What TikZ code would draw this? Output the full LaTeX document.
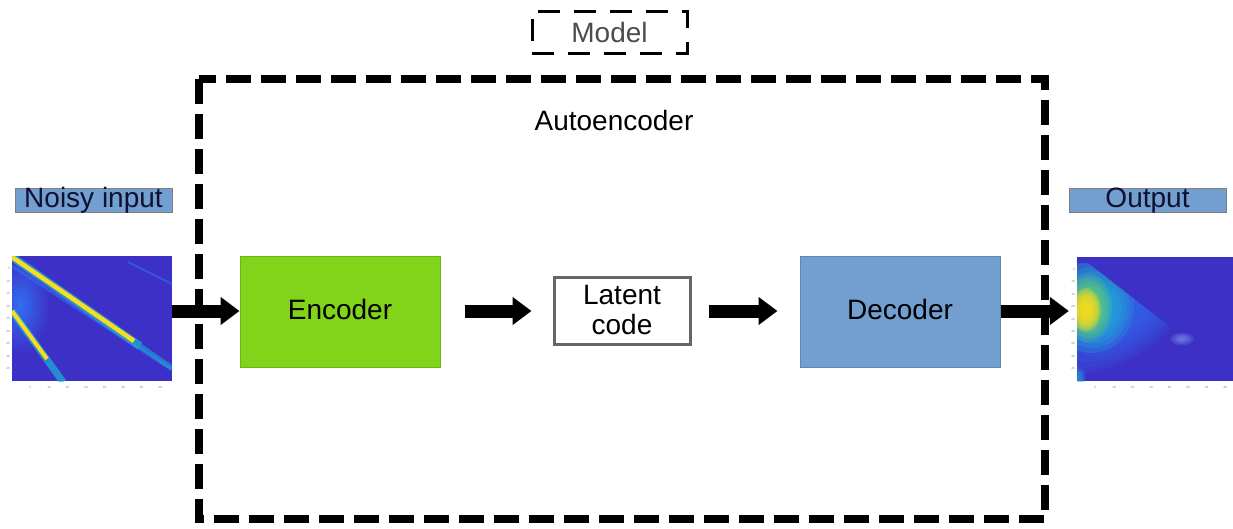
\documentclass[tikz,border=0pt]{standalone}
\usepackage{fontspec}
\setmainfont{Liberation Sans}
\usetikzlibrary{arrows.meta}
\definecolor{encgreen}{RGB}{129,212,26}
\definecolor{decblue}{RGB}{114,159,207}
\definecolor{labelblue}{RGB}{114,159,207}
\definecolor{navy}{RGB}{16,16,48}
\definecolor{hmbg}{RGB}{60,48,198}
\definecolor{hmyellow}{RGB}{250,220,30}
\definecolor{hmcyan}{RGB}{30,180,215}
\definecolor{hmgreen}{RGB}{110,205,100}
\definecolor{hmlight}{RGB}{50,110,240}
\tikzset{
  bigfont/.style={font=\fontsize{28}{30}\selectfont},
  blockbox/.style={draw=#1!85!black, fill=#1, line width=1pt, minimum width=200pt, minimum height=111pt, inner sep=0pt, text height=19pt, text depth=4pt, bigfont, text=black},
  labelbox/.style={draw=gray, fill=labelblue, line width=0.8pt, minimum width=157pt, minimum height=24pt, inner sep=0pt, text height=20pt, text depth=4pt, bigfont, text=navy},
  flowarrow/.style={line width=13pt, -{Triangle[length=19pt,width=27pt]}},
  ticklbl/.style={font=\fontsize{3}{3}\selectfont, text=gray, inner sep=0pt},
  glow/.style={inner color=#1, outer color=hmbg},
}
\begin{document}
\begin{tikzpicture}[x=1pt,y=-1pt]
\useasboundingbox (0,0) rectangle (1233,529);
\fill[white] (0,0) rectangle (1233,529);

% Autoencoder dashed frame
\draw[line width=8pt, dash pattern=on 25pt off 10pt] (199,79) rectangle (1045,519);
\node[bigfont, anchor=base] (aetitle) at (614,131) {Autoencoder};

% Model dashed box
\node[draw=black, line width=3pt, dash pattern=on 22pt off 14pt, minimum width=155pt, minimum height=42pt, inner sep=0pt, bigfont, text=black!70] (model) at (609.5,32.5) {Model};

% Labels
\node[labelbox] (noisylbl) at (93.5,200) {Noisy input};
\node[labelbox] (outlbl) at (1147.5,200) {Output};

% Input heatmap
\node[minimum width=160pt, minimum height=125pt, inner sep=0pt] (inimg) at (92,318.5) {};
\begin{scope}
  \clip (12,256) rectangle (172,381);
  \fill[hmbg] (12,256) rectangle (172,381);
  \shade[glow=hmlight] (20,305) ellipse (30 and 50);
  \draw[hmlight, line width=2pt, opacity=0.6] (128,262) -- (172,284);
  \draw[hmlight, line width=3pt, opacity=0.6] (12,266) -- (172,370);
  \draw[hmcyan, line width=8pt, opacity=0.7] (12,257) -- (140,346);
  \draw[hmcyan, line width=5pt, opacity=0.55] (140,346) -- (172,368);
  \draw[hmyellow, line width=4.5pt] (12,257) -- (134,341);
  \draw[hmcyan, line width=7pt, opacity=0.7] (12,311) -- (63,382);
  \draw[hmyellow, line width=4pt] (12,311) -- (47,359);
\end{scope}
\foreach \v [count=\i] in {5,10,15,20,25,30,35,40,45}
  \node[ticklbl, anchor=east] (iny\i) at (10,256+\i*12.5) {\v};
\foreach \v [count=\i] in {5,10,15,20,25,30,35,40}
  \node[ticklbl, anchor=north] (inx\i) at (12+\i*18.5,386) {\v};

% Output heatmap
\node[minimum width=156pt, minimum height=124pt, inner sep=0pt] (outimg) at (1155,319) {};
\begin{scope}
  \clip (1077,257) rectangle (1233,381);
  \fill[hmbg] (1077,257) rectangle (1233,381);
  \begin{scope}
    \clip (1077,263) -- (1088,263) -- (1196,347) -- (1077,420) -- cycle;
    \foreach \s in {0.3,0.4,...,1.05}
      \fill[hmlight, opacity=0.15, rotate around={35:(1125,315)}] (1125,315) ellipse ({85*\s} and {40*\s});
    \foreach \s in {0.3,0.4,...,1.05}
      \fill[hmcyan, opacity=0.22] (1092,305) ellipse ({42*\s} and {48*\s});
  \end{scope}
  \foreach \s in {0.3,0.4,...,1.05}
    \fill[hmgreen, opacity=0.2] (1088,308) ellipse ({24*\s} and {34*\s});
  \foreach \s in {0.3,0.4,...,1.05}
    \fill[hmyellow, opacity=0.28] (1086,310) ellipse ({15*\s} and {22*\s});
  \foreach \s in {0.3,0.5,...,1.05}
    \fill[hmlight!50!white, opacity=0.15] (1182,339) ellipse ({13*\s} and {7*\s});
  \foreach \s in {0.3,0.5,...,1.05}
    \fill[hmcyan, opacity=0.2] (1079,378) ellipse ({7*\s} and {12*\s});
\end{scope}
\foreach \v [count=\i] in {5,10,15,20,25,30,35,40,45}
  \node[ticklbl, anchor=east] (outy\i) at (1075,257+\i*12.4) {\v};
\foreach \v [count=\i] in {5,10,15,20,25,30,35,40}
  \node[ticklbl, anchor=north] (outx\i) at (1077+\i*18.5,386) {\v};

% Blocks
\node[blockbox=encgreen] (enc) at (340,311.5) {Encoder};
\node[draw=black!60, line width=3pt, fill=white, minimum width=136pt, minimum height=67pt, inner sep=0pt, align=center, bigfont] (latent) at (622,310.5) {Latent\\code};
\node[blockbox=decblue] (dec) at (900,311.5) {Decoder};

% Arrows
\draw[flowarrow] (inimg.east |- 0,311) -- (enc.west |- 0,311);
\draw[flowarrow, shorten <=24pt, shorten >=21pt] (enc.east |- 0,311) -- (latent.west |- 0,311);
\draw[flowarrow, shorten <=17pt, shorten >=22pt] (latent.east |- 0,311) -- (dec.west |- 0,311);
\draw[flowarrow, shorten >=8pt] (dec.east |- 0,311) -- (outimg.west |- 0,311);
\end{tikzpicture}
\end{document}
